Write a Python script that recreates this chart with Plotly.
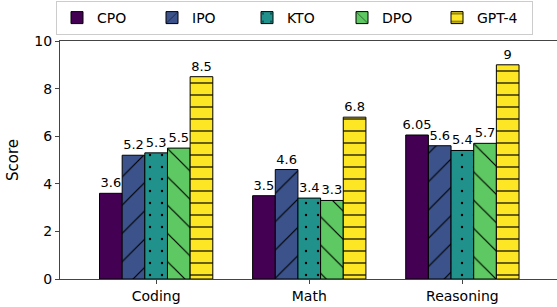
import plotly.graph_objects as go

categories = ["Coding", "Math", "Reasoning"]
methods = ["CPO", "IPO", "KTO", "DPO", "GPT-4"]
cpo = [3.6, 3.5, 6.05]
ipo = [5.2, 4.6, 5.6]
kto = [5.3, 3.4, 5.4]
dpo = [5.5, 3.3, 5.7]
gpt4 = [8.5, 6.8, 9]
yticks = [0, 2, 4, 6, 8, 10]

series = [cpo, ipo, kto, dpo, gpt4]
colors = ["#440154", "#3b528b", "#21918c", "#5ec962", "#fde725"]
shapes = ["", "/", ".", "\\", "-"]
sizes = [10, 20, 12, 20, 12]
solids = [0.1, 0.06, 0.03, 0.06, 0.1]

fig = go.Figure()
for name, vals, col, shp, sz, so in zip(methods, series, colors, shapes, sizes, solids):
    pattern = dict(shape=shp, fgcolor="black", bgcolor=col, size=sz,
                   solidity=so, fillmode="replace")
    fig.add_trace(go.Bar(
        name=name, x=categories, y=vals,
        text=[f"{v:g}" for v in vals], textposition="outside",
        textfont=dict(size=13, color="black", family="DejaVu Sans"),
        constraintext="none", cliponaxis=False,
        marker=dict(color=col, line=dict(color="black", width=1), pattern=pattern),
    ))

fig.update_layout(
    width=557, height=307,
    margin=dict(l=60, r=0, t=41, b=28, autoexpand=False),
    barmode="group", bargap=0.26, bargroupgap=0,
    plot_bgcolor="white", paper_bgcolor="white",
    font=dict(family="DejaVu Sans", size=14, color="black"),
    showlegend=True,
    legend=dict(orientation="h", x=56/557, xanchor="left", y=306/307, yanchor="top",
                xref="container", yref="container",
                bordercolor="#cccccc", borderwidth=1, font=dict(size=14),
                entrywidth=50, entrywidthmode="pixels",
                tracegroupgap=0),
)
fig.update_xaxes(range=[-0.628, 2.618], showline=True, linecolor="#444", linewidth=1,
                 mirror=True, ticks="outside", ticklen=4, tickcolor="#444",
                 tickfont=dict(size=14), showgrid=False)
fig.update_yaxes(range=[0, 10], tickvals=yticks, showline=True, linecolor="#444",
                 linewidth=1, ticks="outside", ticklen=4, tickcolor="#444",
                 tickfont=dict(size=14), showgrid=False, zeroline=False,
                 title=dict(text="Score", font=dict(size=15), standoff=12))

fig.write_html("out.html", config={"displayModeBar": False},
               post_script="document.body.style.margin='0';document.body.style.overflow='hidden';")
